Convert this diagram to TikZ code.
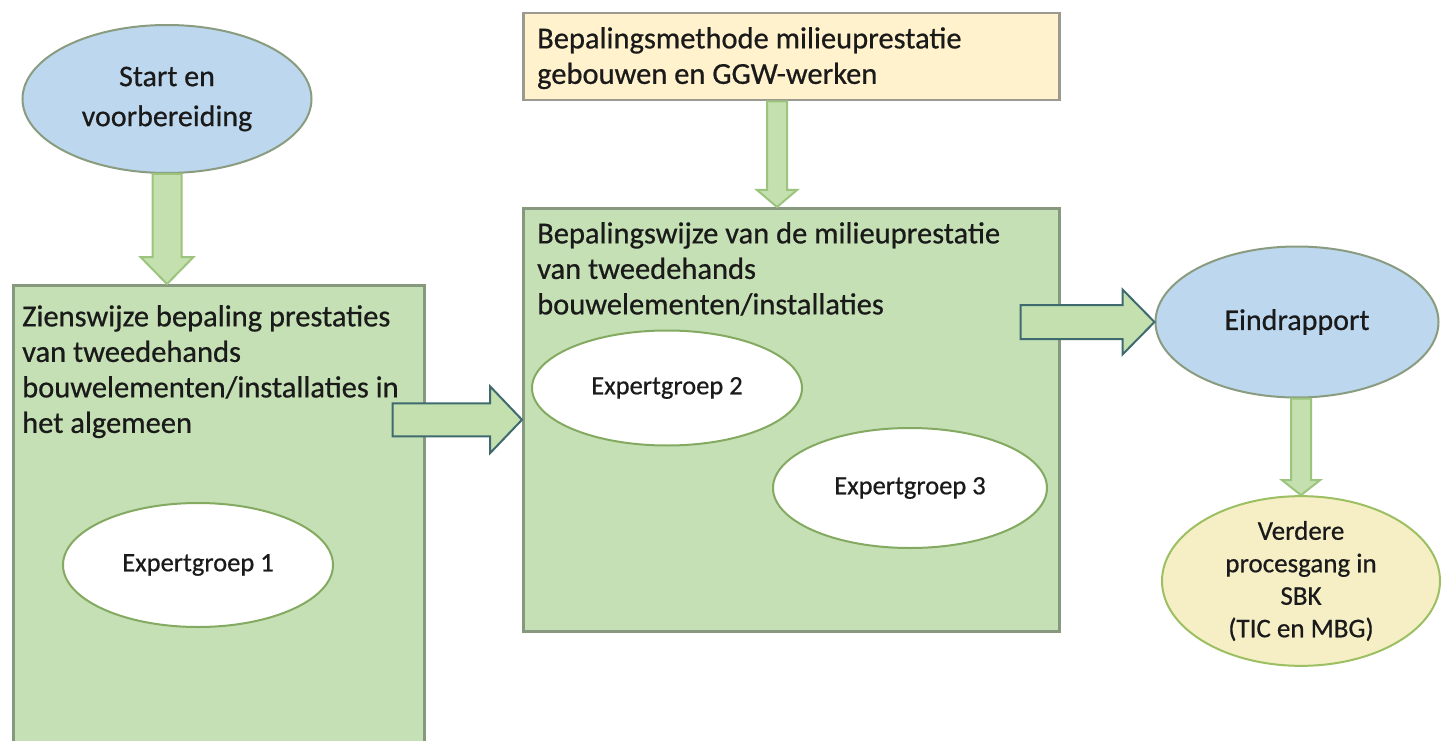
\documentclass[tikz,border=0pt]{standalone}
\usepackage{fontspec}
\setmainfont{Carlito}[FakeBold=0.6]
\usetikzlibrary{shapes.geometric,calc}
\definecolor{boxgreen}{HTML}{C5E0B4}
\definecolor{boxline}{HTML}{86997F}
\definecolor{topfill}{HTML}{FFF2CC}
\definecolor{topline}{HTML}{9A9A90}
\definecolor{bluefill}{HTML}{BDD7EE}
\definecolor{blueline}{HTML}{8A9C80}
\definecolor{exline}{HTML}{84AA62}
\definecolor{yelfill}{HTML}{F6EFC6}
\definecolor{yelline}{HTML}{9CBF62}
\definecolor{arrfill}{HTML}{C3E0AE}
\definecolor{arrline}{HTML}{9CC47E}
\definecolor{arrdark}{HTML}{3F6A70}
\definecolor{txt}{HTML}{1A1A1A}
\newcommand\blockdown[6]{%
  \draw[#1] ($(#2)+(-#4,0)$) -- ($(#2)+(#4,0)$) -- ($(#3)+(#4,-#6)$) -- ($(#3)+(#5,-#6)$) -- (#3) -- ($(#3)+(-#5,-#6)$) -- ($(#3)+(-#4,-#6)$) -- cycle;}
\newcommand\blockright[6]{%
  \draw[#1] ($(#2)+(0,-#4)$) -- ($(#3)+(-#6,-#4)$) -- ($(#3)+(-#6,-#5)$) -- (#3) -- ($(#3)+(-#6,#5)$) -- ($(#3)+(-#6,#4)$) -- ($(#2)+(0,#4)$) -- cycle;}
\begin{document}
\begin{tikzpicture}[x=1pt,y=-1pt,
  greenbox/.style={draw=boxline, fill=boxgreen, line width=2.5pt, rectangle, inner sep=0pt, anchor=north west},
  topbox/.style={draw=topline, fill=topfill, line width=2.5pt, rectangle, inner sep=0pt, anchor=north west},
  blueell/.style={ellipse, draw=blueline, fill=bluefill, line width=2pt, inner sep=0pt, text=txt, align=center, font=\fontsize{30}{40}\selectfont},
  exell/.style={ellipse, draw=exline, fill=white, line width=2pt, inner sep=0pt, text=txt, font=\fontsize{26.5}{32}\selectfont},
  yelell/.style={ellipse, draw=yelline, fill=yelfill, line width=2pt, inner sep=0pt, text=txt, align=center, font=\fontsize{27}{32.5}\selectfont},
  boxtext/.style={anchor=north west, inner sep=0pt, align=left, text=txt, font=\fontsize{30.5}{35.5}\selectfont},
  greenarrow/.style={draw=arrline, fill=arrfill, line width=2pt, line join=miter},
  darkarrow/.style={draw=arrdark, fill=arrfill, line width=2pt, line join=miter}]
\useasboundingbox (0,0) rectangle (1441,741);
\clip (0,0) rectangle (1441,741);
\fill[white] (0,0) rectangle (1441,741);

% boxes
\node[greenbox, minimum width=411pt, minimum height=480pt] (lb) at (12,284) {};
\node[greenbox, minimum width=536pt, minimum height=423pt] (mb) at (522,207) {};
\node[topbox, minimum width=536pt, minimum height=87pt] (tb) at (522,12) {};

\node[boxtext] (lbt) at (22,305) {Zienswijze bepaling prestaties\\van tweedehands\\bouwelementen/installaties in\\het algemeen};
\node[boxtext] (mbt) at (537,222) {Bepalingswijze van de milieuprestatie\\van tweedehands\\bouwelementen/installaties};
\node[boxtext] (tbt) at (537,27) {Bepalingsmethode milieuprestatie\\gebouwen en GGW-werken};

% ellipses
\node[blueell, minimum width=289pt, minimum height=148pt] (s) at (167,99) {Start en\\voorbereiding};
\node[blueell, minimum width=283pt, minimum height=151pt] (e) at (1297,322) {Eindrapport};
\node[yelell, minimum width=278pt, minimum height=157pt] (v) at (1301,581) {Verdere\\procesgang in\\SBK\\(TIC en MBG)};
\node[exell, minimum width=270pt, minimum height=124pt] (ex1) at (198,565) {Expertgroep 1};
\node[exell, minimum width=270pt, minimum height=115pt] (ex2) at (667,388) {Expertgroep 2};
\node[exell, minimum width=274pt, minimum height=120pt] (ex3) at (910,488) {Expertgroep 3};

% connector coordinates
\coordinate (a1tip) at (s.south |- lb.north);
\coordinate (a2tail) at ($(tb.south west)+(255,0)$);
\coordinate (a2tip) at (a2tail |- mb.north);
\coordinate (a3tail) at ($(lb.east |- mb.west)+(-33,0)$);
\coordinate (a4tail) at ($(mb.east |- e.west)+(-40,0)$);
\coordinate (a5tail) at (v.north |- e.south);

% block arrows
\blockdown{greenarrow}{s.south}{a1tip}{14.5}{26.5}{27}
\blockdown{greenarrow}{a2tail}{a2tip}{10}{20}{17}
\blockright{darkarrow}{a3tail}{mb.west}{16.5}{33.5}{32}
\blockright{darkarrow}{a4tail}{e.west}{17}{32.5}{32}
\blockdown{greenarrow}{a5tail}{v.north}{10}{19}{15}
\end{tikzpicture}
\end{document}
